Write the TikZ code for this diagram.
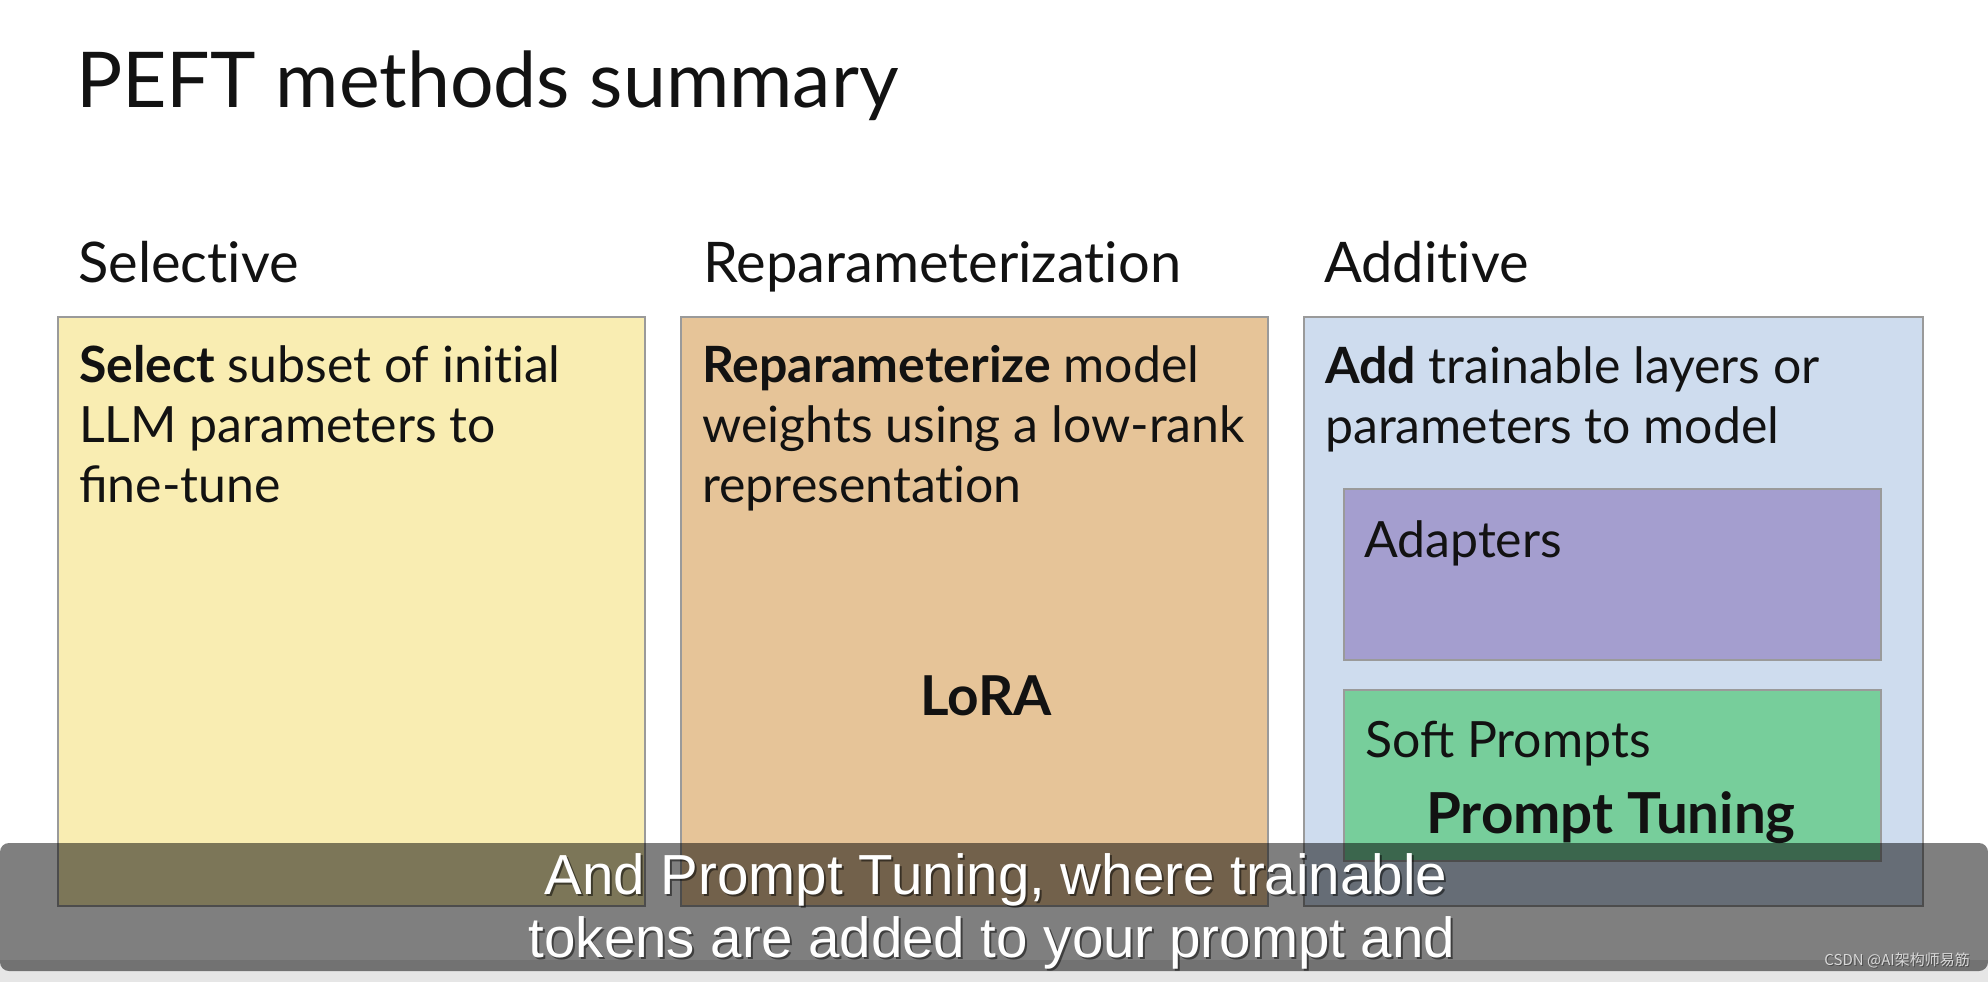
\documentclass[tikz,border=0pt]{standalone}
\usepackage{fontspec}
\setmainfont{Lato}
\newfontfamily\capfont{Liberation Sans}
\newfontfamily\cjkfont{Noto Sans CJK SC}
\definecolor{yelc}{HTML}{F9EDB2}
\definecolor{orac}{HTML}{E6C498}
\definecolor{bluc}{HTML}{CEDCEE}
\definecolor{purc}{HTML}{A49ECF}
\definecolor{grnc}{HTML}{77CE9B}
\definecolor{edgec}{HTML}{9A9A9A}
\definecolor{inkc}{HTML}{121212}
\definecolor{stripc}{HTML}{E6E6E6}
\newcommand{\nt}{t\kern0pt i}
\tikzset{
  panel/.style={draw=edgec, line width=1.6pt, anchor=north west, inner sep=0pt},
  ttl/.style={anchor=base west, inner sep=0pt, text=inkc, font=\fontsize{77}{90}\selectfont},
  hdr/.style={anchor=base west, inner sep=0pt, text=inkc, font=\fontsize{56}{66}\selectfont},
  body/.style={anchor=base west, inner sep=0pt, text=inkc, font=\fontsize{50}{60}\selectfont},
  bigb/.style={anchor=base, inner sep=0pt, text=inkc, font=\fontsize{55}{60}\selectfont\bfseries},
  captxt/.style={anchor=base, inner sep=0pt, text=white, font=\capfont\fontsize{56.5}{66}\selectfont},
}
\begin{document}
\begin{tikzpicture}[x=1pt,y=-1pt]
\useasboundingbox (0,0) rectangle (1988,982);
\fill[white] (0,0) rectangle (1988,982);
% title
\node[ttl] (title) at (76,107) {PEFT methods summary};
% headers
\node[hdr] (hsel) at (78,282) {Selec\nt ve};
\node[hdr] (hrep) at (703,282) {Reparameteriza\nt on};
\node[hdr] (hadd) at (1324,282) {Addi\nt ve};
% panels
\node[panel, fill=yelc, minimum width=587pt, minimum height=589pt] (psel) at (57,316) {};
\node[panel, fill=orac, minimum width=587pt, minimum height=589pt] (prep) at (680,316) {};
\node[panel, fill=bluc, minimum width=619pt, minimum height=589pt] (padd) at (1303,316) {};
\node[panel, fill=purc, minimum width=537pt, minimum height=171pt] (padp) at (1343,488) {};
\node[panel, fill=grnc, minimum width=537pt, minimum height=171pt] (psoft) at (1343,689) {};
% selective text
\node[body] (s1) at (79,382) {\textbf{Select} subset of ini\nt al};
\node[body] (s2) at (79,442) {LLM parameters to};
\node[body] (s3) at (79,502) {fine-tune};
% reparameterization text
\node[body] (r1) at (702,382) {\textbf{Reparameterize} model};
\node[body] (r2) at (702,442) {weights using a low-rank};
\node[body] (r3) at (702,502) {representa\nt on};
\node[bigb] (lora) at (986,715) {LoRA};
% additive text
\node[body] (a1) at (1325,383) {\textbf{Add} trainable layers or};
\node[body] (a2) at (1325,443) {parameters to model};
\node[body] (adp) at (1364,557) {Adapters};
\node[body] (sp) at (1365,757) {Soft Prompts};
\node[bigb, font=\fontsize{56.5}{60}\selectfont\bfseries] (pt) at (1611,833) {Prompt Tuning};
% caption overlay
\fill[stripc] (0,960) rectangle (1988,982);
\fill[black, fill opacity=0.5, rounded corners=9pt] (0,843) rectangle (1988,971);
\node[captxt, text=black, opacity=0.5] (c1s) at (998,896) {And Prompt Tuning, where trainable};
\node[captxt, text=black, opacity=0.5] (c2s) at (994,959) {tokens are added to your prompt and};
\node[captxt] (c1) at (996,894) {And Prompt Tuning, where trainable};
\node[captxt] (c2) at (992,957) {tokens are added to your prompt and};
\node[anchor=base east, inner sep=0pt, text=black!70, font=\cjkfont\fontsize{15}{18}\selectfont] (wms) at (1971,966) {CSDN @AI架构师易筋};
\node[anchor=base east, inner sep=0pt, text=white!85!black, font=\cjkfont\fontsize{15}{18}\selectfont] (wm) at (1970,965) {CSDN @AI架构师易筋};
\end{tikzpicture}
\end{document}
